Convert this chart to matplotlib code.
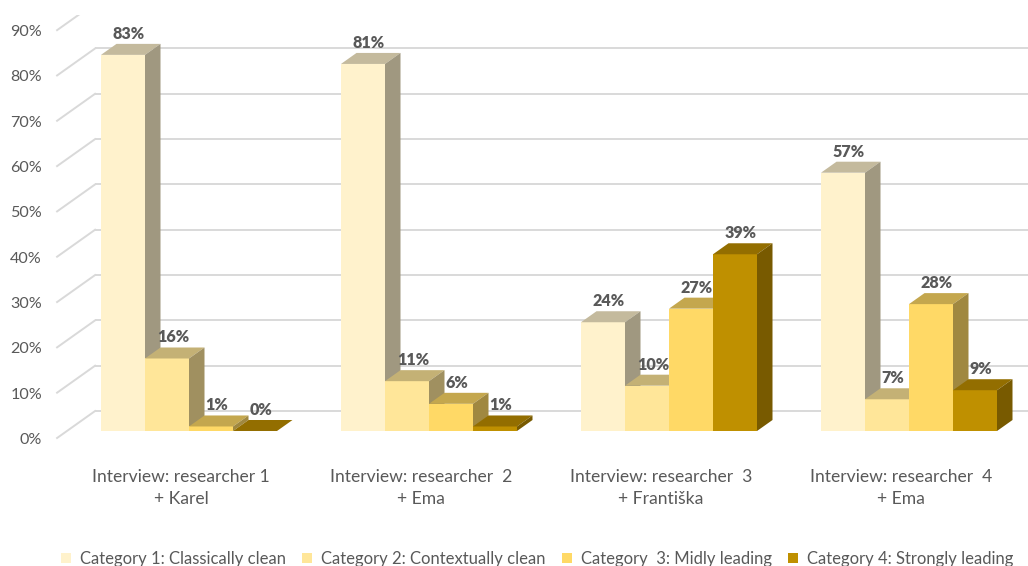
import matplotlib
matplotlib.use("Agg")
import matplotlib.pyplot as plt
from matplotlib.patches import Polygon, Rectangle, Patch
from matplotlib.transforms import ScaledTranslation

# ---- data -------------------------------------------------------------
groups = [
    "Interview: researcher 1\n+ Karel",
    "Interview: researcher  2\n+ Ema",
    "Interview: researcher  3\n+ Františka",
    "Interview: researcher  4\n+ Ema",
]
series_names = [
    "Category 1: Classically clean",
    "Category 2: Contextually clean",
    "Category  3: Midly leading",
    "Category 4: Strongly leading",
]
cat1 = [83, 81, 24, 57]
cat2 = [16, 11, 10, 7]
cat3 = [1, 6, 27, 28]
cat4 = [0, 1, 39, 9]
y_ticks = [0, 10, 20, 30, 40, 50, 60, 70, 80, 90]

series = [cat1, cat2, cat3, cat4]

# ---- style ------------------------------------------------------------
front_colors = ["#FFF2CC", "#FFE699", "#FFD966", "#BF9000"]


def shade(hex_color, f):
    r, g, b = (int(hex_color[i:i + 2], 16) for i in (1, 3, 5))
    return "#%02X%02X%02X" % (int(r * f), int(g * f), int(b * f))


top_colors = [shade(c, 0.77) for c in front_colors]
side_colors = [shade(c, 0.63) for c in front_colors]
TEXT = "#595959"
GRID = "#D9D9D9"
FONT = ["Lato", "DejaVu Sans"]
plt.rcParams["font.family"] = FONT

W, H, DPI = 1028, 566, 100
fig = plt.figure(figsize=(W / DPI, H / DPI), dpi=DPI)

# plot region in pixels (front plane of the bars)
left_px, right_px, top_px, bottom_px = 45, 1029, 15, 444.6
ax = fig.add_axes([left_px / W, 1 - bottom_px / H,
                   (right_px - left_px) / W, (bottom_px - top_px) / H])
xmin, xmax, ymin, ymax = -0.6, 3.5, -3, 91.8
ax.set_xlim(xmin, xmax)
ax.set_ylim(ymin, ymax)
ax.axis("off")

ppx = ax.bbox.width / (xmax - xmin)   # pixels per group unit
ppy = ax.bbox.height / (ymax - ymin)  # pixels per percent


def px_offset(dx, dy):
    return ScaledTranslation(dx / DPI, dy / DPI, fig.dpi_scale_trans)


# oblique depth (pixels) of bars and of the floor / walls
bar_dx, bar_dy = 15.5, 11
floor_front = (-10, -7)
floor_back = (28, 20)
wall_x = -0.508

# back wall grid and left wall diagonals
for v in y_ticks:
    xb = wall_x + floor_back[0] / ppx
    yb = v + floor_back[1] / ppy
    xf = wall_x + floor_front[0] / ppx
    yf = v + floor_front[1] / ppy
    ax.plot([xb, xmax + 0.2], [yb, yb], color=GRID, lw=1.4, zorder=1,
            solid_capstyle="butt")
    ax.plot([xf, xb], [yf, yb], color=GRID, lw=1.4, zorder=1)
    ax.text(xmin, v, f"{v}%", transform=ax.transData + px_offset(-3, -9),
            ha="right", va="center", fontsize=11.6, color=TEXT, clip_on=False)

# 3-D looking bars
n = len(series)
bw = 44 / ppx
ddx, ddy = bar_dx / ppx, bar_dy / ppy
for g in range(len(groups)):
    for k in range(n):
        v = series[k][g]
        x0 = g + (k - n / 2) * bw
        x1 = x0 + bw
        z = 2 + k * 0.1
        ax.add_patch(Rectangle((x0, 0), bw, v, fc=front_colors[k], ec="none", zorder=z))
        ax.add_patch(Polygon([(x0, v), (x1, v), (x1 + ddx, v + ddy), (x0 + ddx, v + ddy)],
                             closed=True, fc=top_colors[k], ec="none", zorder=z))
        ax.add_patch(Polygon([(x1, 0), (x1 + ddx, ddy), (x1 + ddx, v + ddy), (x1, v)],
                             closed=True, fc=side_colors[k], ec="none", zorder=z))
        ax.text(x0 + bw / 2, v, f"{v}%", transform=ax.transData + px_offset(6, 21),
                ha="center", va="center", fontsize=11.6, fontweight="heavy",
                color=TEXT, zorder=10)

# category labels
for g, lab in enumerate(groups):
    ax.text(g, 0, lab, transform=ax.transData + px_offset(-8, -57),
            ha="center", va="center", multialignment="center",
            fontsize=12.6, color=TEXT, linespacing=1.5, clip_on=False)

# legend
handles = [Patch(fc=c, ec="none") for c in front_colors]
fig.legend(handles, series_names, ncol=4, loc="center left",
           bbox_to_anchor=(61 / W, 1 - 559 / H), frameon=False,
           fontsize=12, labelcolor=TEXT, handlelength=0.6, handleheight=0.6,
           handletextpad=0.55, columnspacing=0.95, borderpad=0, borderaxespad=0)

fig.savefig("out.png", dpi=DPI)
